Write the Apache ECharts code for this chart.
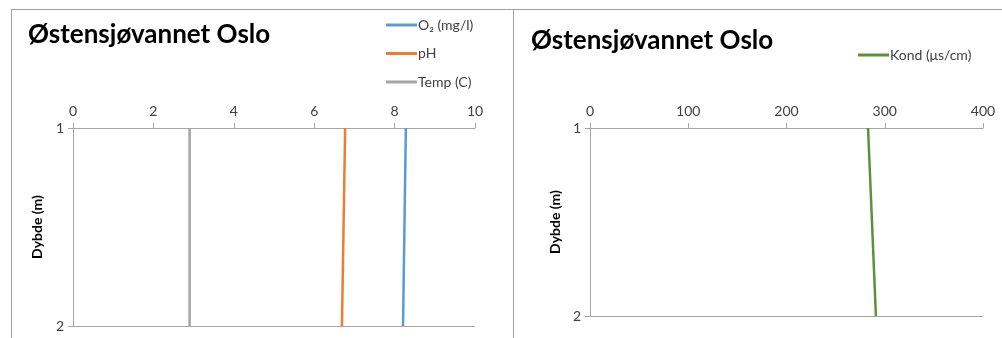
<!DOCTYPE html>
<html><head><meta charset="utf-8">
<script src="https://cdn.jsdelivr.net/npm/echarts@6/dist/echarts.min.js"></script>
<style>html,body{margin:0;padding:0;background:#fff}#c{width:1002px;height:338px}</style>
</head><body><div id="c"></div>
<script>
const depths = [1, 2];
const o2 = [8.28, 8.21];
const ph = [6.77, 6.69];
const temp = [2.9, 2.9];
const kond = [283, 291];
const leftTicks = [0, 2, 4, 6, 8, 10];
const rightTicks = [0, 100, 200, 300, 400];
const titleText = 'Østensjøvannet Oslo';
const yName = 'Dybde (m)';

const pairs = (vals) => vals.map((v, i) => [v, depths[i]]);
const FONT = 'Lato, "Open Sans", sans-serif';
const axisGray = '#A6A6A6';
const labelColor = '#404040';

const chart = echarts.init(document.getElementById('c'), null, {renderer: 'canvas'});

function xAx(gi, ticks) {
  return {
    gridIndex: gi, type: 'value', position: 'top',
    min: ticks[0], max: ticks[ticks.length - 1], interval: ticks[1] - ticks[0],
    axisLine: {show: true, lineStyle: {color: axisGray, width: 1}},
    axisTick: {show: true, inside: false, length: 5, lineStyle: {color: axisGray}},
    axisLabel: {color: labelColor, fontFamily: FONT, fontSize: 14, margin: 10},
    splitLine: {show: false}
  };
}
function yAx(gi) {
  return {
    gridIndex: gi, type: 'value', inverse: true, min: 1, max: 2, interval: 1,
    name: yName, nameLocation: 'middle', nameRotate: 90,
    nameTextStyle: {fontFamily: FONT, fontWeight: 'bold', fontSize: 14, color: '#000'},
    axisLine: {show: true, lineStyle: {color: axisGray, width: 1}},
    axisTick: {show: true, length: 5, lineStyle: {color: axisGray}},
    axisLabel: {color: labelColor, fontFamily: FONT, fontSize: 14, margin: 9},
    splitLine: {show: true, lineStyle: {color: axisGray, width: 1}}
  };
}

const yAxes = [yAx(0), yAx(1)];
yAxes[0].nameGap = 29;
yAxes[1].nameGap = 28;

chart.setOption({
  animation: false,
  backgroundColor: '#fff',
  title: [
    {text: titleText, left: 23, top: 17, textStyle: {fontFamily: FONT, fontWeight: 'bold', fontSize: 26, color: '#000'}},
    {text: titleText, left: 526, top: 23, textStyle: {fontFamily: FONT, fontWeight: 'bold', fontSize: 26, color: '#000'}}
  ],
  legend: [
    {
      data: ['O₂ (mg/l)', 'pH', 'Temp (C)'], orient: 'vertical', left: 381, top: 13,
      icon: 'rect', itemWidth: 31, itemHeight: 3, itemGap: 14.5,
      textStyle: {fontFamily: FONT, fontSize: 14, color: labelColor, padding: [0, 0, 0, -4]}
    },
    {
      data: ['Kond (μs/cm)'], orient: 'vertical', left: 853, top: 43,
      icon: 'rect', itemWidth: 31, itemHeight: 3,
      textStyle: {fontFamily: FONT, fontSize: 14, color: labelColor, padding: [0, 0, 0, -4]}
    }
  ],
  grid: [
    {left: 73, top: 128, width: 402, height: 198},
    {left: 590, top: 128, width: 393, height: 188}
  ],
  xAxis: [xAx(0, leftTicks), xAx(1, rightTicks)],
  yAxis: yAxes,
  series: [
    {name: 'O₂ (mg/l)', type: 'line', xAxisIndex: 0, yAxisIndex: 0, data: pairs(o2), showSymbol: false, lineStyle: {color: '#5B9BD5', width: 2.5}, itemStyle: {color: '#5B9BD5'}},
    {name: 'pH', type: 'line', xAxisIndex: 0, yAxisIndex: 0, data: pairs(ph), showSymbol: false, lineStyle: {color: '#ED7D31', width: 2.5}, itemStyle: {color: '#ED7D31'}},
    {name: 'Temp (C)', type: 'line', xAxisIndex: 0, yAxisIndex: 0, data: pairs(temp), showSymbol: false, lineStyle: {color: '#A5A5A5', width: 2.5}, itemStyle: {color: '#A5A5A5'}},
    {name: 'Kond (μs/cm)', type: 'line', xAxisIndex: 1, yAxisIndex: 1, data: pairs(kond), showSymbol: false, lineStyle: {color: '#5B9239', width: 2.5}, itemStyle: {color: '#5B9239'}}
  ],
  graphic: [
    {type: 'line', shape: {x1: 11, y1: 9.5, x2: 1002, y2: 9.5}, style: {stroke: '#A0A0A0', lineWidth: 1}},
    {type: 'line', shape: {x1: 11.5, y1: 9, x2: 11.5, y2: 338}, style: {stroke: '#A0A0A0', lineWidth: 1}},
    {type: 'line', shape: {x1: 513.5, y1: 9, x2: 513.5, y2: 338}, style: {stroke: '#A0A0A0', lineWidth: 1}}
  ]
});
</script></body></html>
